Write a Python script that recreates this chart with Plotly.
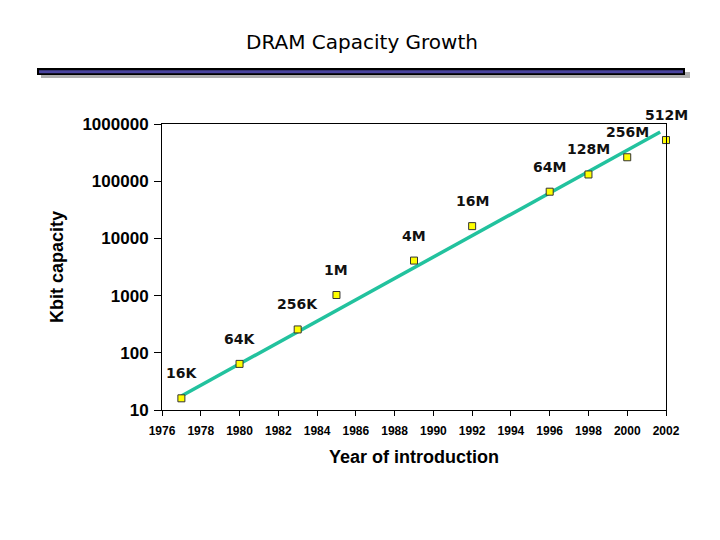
import numpy as np
import plotly.graph_objects as go

years = [1977, 1980, 1983, 1985, 1989, 1992, 1996, 1998, 2000, 2002]
capacity_kbit = [16, 64, 256, 1024, 4096, 16384, 65536, 131072, 262144, 524288]
labels = ["16K", "64K", "256K", "1M", "4M", "16M", "64M", "128M", "256M", "512M"]
trend_years = [1977, 2001.7]
trend_kbit = [17.6, 725000]
x_ticks = list(range(1976, 2003, 2))
y_tickvals = [10, 100, 1000, 10000, 100000, 1000000]
y_ticktext = ["10", "100", "1000", "10000", "100000", "1000000"]

# page body adds an 8px offset; build the figure 8px smaller and shift
OFF = 8
W, H = 720 - OFF, 540 - OFF
L, R, T, B = 162 - OFF, 666 - OFF, 124 - OFF, 410 - OFF

fig = go.Figure()
fig.add_trace(go.Scatter(
    x=trend_years, y=trend_kbit, mode="lines",
    line=dict(color="#22C29E", width=3.5), hoverinfo="skip", showlegend=False))
fig.add_trace(go.Scatter(
    x=years, y=capacity_kbit, mode="markers",
    marker=dict(symbol="square", size=7, color="#FFFF00",
                line=dict(color="#333333", width=1)),
    showlegend=False, cliponaxis=False))

for x, y, t in zip(years, capacity_kbit, labels):
    fig.add_annotation(x=x, y=np.log10(y), text=t, showarrow=False, yshift=25,
                       font=dict(family="DejaVu Sans", size=14, color="#111111",
                                 weight="bold"))

def px_x(p):
    return (p - OFF - L) / (R - L)

def px_y(p):
    return (B - (p - OFF)) / (B - T)

fig.add_shape(type="rect", xref="paper", yref="paper",
              x0=px_x(41), x1=px_x(690), y0=px_y(78), y1=px_y(72),
              fillcolor="#B0B0B0", line=dict(width=0), layer="below")
fig.add_shape(type="rect", xref="paper", yref="paper",
              x0=px_x(37), x1=px_x(685), y0=px_y(75), y1=px_y(68),
              fillcolor="#000000", line=dict(width=0))
fig.add_shape(type="rect", xref="paper", yref="paper",
              x0=px_x(39), x1=px_x(683), y0=px_y(73.3), y1=px_y(70.3),
              fillcolor="#4A44A0", line=dict(width=0))

fig.update_layout(
    width=W, height=H,
    margin=dict(l=L, r=W - R, t=T, b=H - B),
    paper_bgcolor="white", plot_bgcolor="white",
    title=dict(text="DRAM Capacity Growth", x=(362 - OFF) / W, xref="container",
               xanchor="center", y=1 - (42 - OFF) / H, yref="container",
               yanchor="middle",
               font=dict(family="DejaVu Sans", size=20, color="black")),
    font=dict(family="Liberation Sans", color="black"),
)

fig.update_xaxes(
    range=[1976, 2002], tickvals=x_ticks, ticks="outside", ticklen=5,
    tickcolor="black", showline=True, linecolor="black", linewidth=1,
    mirror=True, showgrid=False, zeroline=False, ticklabelstandoff=5,
    tickfont=dict(family="Liberation Sans", size=12, color="black", weight="bold"),
    title=dict(text="Year of introduction", standoff=12,
               font=dict(family="Liberation Sans", size=18, color="black", weight="bold")))
fig.update_yaxes(
    type="log", range=[1, 6], tickvals=y_tickvals, ticktext=y_ticktext,
    ticks="outside", ticklen=7, tickcolor="black", showline=True,
    linecolor="black", linewidth=1, mirror=True, showgrid=False, zeroline=False,
    ticklabelstandoff=2,
    tickfont=dict(family="Liberation Sans", size=17, color="black", weight="bold"),
    title=dict(text="Kbit capacity", standoff=14,
               font=dict(family="Liberation Sans", size=18, color="black", weight="bold")))

fig.write_html("out.html")
